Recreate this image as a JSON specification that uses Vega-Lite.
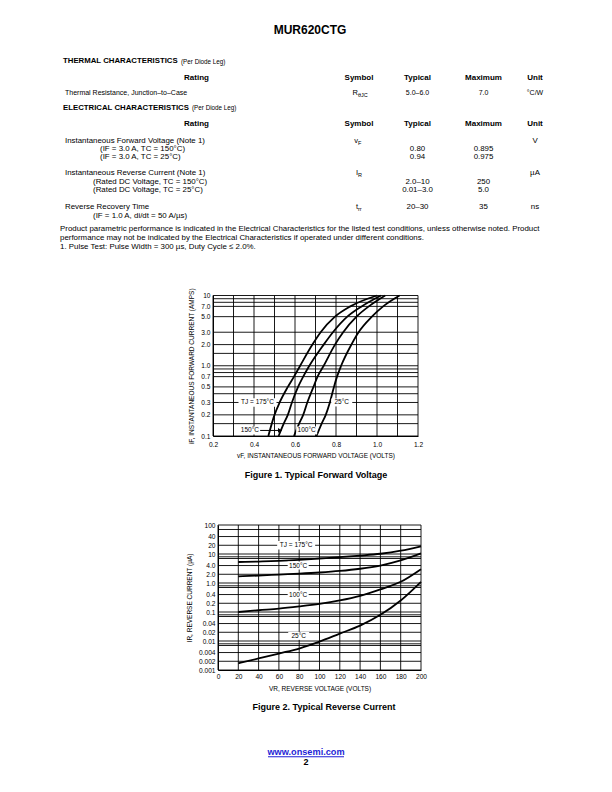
{
  "$schema": "https://vega.github.io/schema/vega-lite/v6.json",
  "width": 612,
  "height": 792,
  "padding": 0,
  "autosize": {"type": "none"},
  "background": "white",
  "config": {"view": {"stroke": null}, "font": "Liberation Sans"},
  "datasets": {
    "page": [
      {"kind": "title", "line": 1, "col": 6, "text": "MUR620CTG"},
      {"kind": "heading", "line": 2, "col": 0, "text": "THERMAL CHARACTERISTICS"},
      {"kind": "headnote", "line": 2, "col": 0, "text": "(Per Diode Leg)"},
      {"kind": "th", "line": 4, "col": 0.5, "text": "Rating"},
      {"kind": "th", "line": 4, "col": 1.5, "text": "Symbol"},
      {"kind": "th", "line": 4, "col": 2.5, "text": "Typical"},
      {"kind": "th", "line": 4, "col": 3.5, "text": "Maximum"},
      {"kind": "th", "line": 4, "col": 4.5, "text": "Unit"},
      {"kind": "td", "line": 6, "col": 0, "text": "Thermal Resistance, Junction–to–Case"},
      {"kind": "sym", "line": 6, "col": 1.5, "text": "R", "sub": "θJC"},
      {"kind": "val", "line": 6, "col": 2.5, "text": "5.0–6.0"},
      {"kind": "val", "line": 6, "col": 3.5, "text": "7.0"},
      {"kind": "val", "line": 6, "col": 4.5, "text": "°C/W"},
      {"kind": "heading", "line": 8, "col": 0, "text": "ELECTRICAL CHARACTERISTICS"},
      {"kind": "headnote", "line": 8, "col": 0, "text": "(Per Diode Leg)"},
      {"kind": "th", "line": 10, "col": 0.5, "text": "Rating"},
      {"kind": "th", "line": 10, "col": 1.5, "text": "Symbol"},
      {"kind": "th", "line": 10, "col": 2.5, "text": "Typical"},
      {"kind": "th", "line": 10, "col": 3.5, "text": "Maximum"},
      {"kind": "th", "line": 10, "col": 4.5, "text": "Unit"},
      {"kind": "td", "line": 12, "col": 0, "text": "Instantaneous Forward Voltage (Note 1)"},
      {"kind": "sym", "line": 12, "col": 1.5, "text": "v", "sub": "F"},
      {"kind": "val", "line": 12, "col": 4.5, "text": "V"},
      {"kind": "cond", "line": 13, "col": 0, "text": "(IF = 3.0 A, TC = 150°C)"},
      {"kind": "val", "line": 13, "col": 2.5, "text": "0.80"},
      {"kind": "val", "line": 13, "col": 3.5, "text": "0.895"},
      {"kind": "cond", "line": 14, "col": 0, "text": "(IF = 3.0 A, TC = 25°C)"},
      {"kind": "val", "line": 14, "col": 2.5, "text": "0.94"},
      {"kind": "val", "line": 14, "col": 3.5, "text": "0.975"},
      {"kind": "td", "line": 16, "col": 0, "text": "Instantaneous Reverse Current (Note 1)"},
      {"kind": "sym", "line": 16, "col": 1.5, "text": "I", "sub": "R"},
      {"kind": "val", "line": 16, "col": 4.5, "text": "µA"},
      {"kind": "cond", "line": 17, "col": 0, "text": "(Rated DC Voltage, TC = 150°C)"},
      {"kind": "val", "line": 17, "col": 2.5, "text": "2.0–10"},
      {"kind": "val", "line": 17, "col": 3.5, "text": "250"},
      {"kind": "cond", "line": 18, "col": 0, "text": "(Rated DC Voltage, TC = 25°C)"},
      {"kind": "val", "line": 18, "col": 2.5, "text": "0.01–3.0"},
      {"kind": "val", "line": 18, "col": 3.5, "text": "5.0"},
      {"kind": "td", "line": 20, "col": 0, "text": "Reverse Recovery Time"},
      {"kind": "sym", "line": 20, "col": 1.5, "text": "t", "sub": "rr"},
      {"kind": "val", "line": 20, "col": 2.5, "text": "20–30"},
      {"kind": "val", "line": 20, "col": 3.5, "text": "35"},
      {"kind": "val", "line": 20, "col": 4.5, "text": "ns"},
      {"kind": "cond", "line": 21, "col": 0, "text": "(IF = 1.0 A, di/dt = 50 A/µs)"},
      {"kind": "note", "line": 23, "col": 0, "text": "Product parametric performance is indicated in the Electrical Characteristics for the listed test conditions, unless otherwise noted. Product"},
      {"kind": "note", "line": 24, "col": 0, "text": "performance may not be indicated by the Electrical Characteristics if operated under different conditions."},
      {"kind": "note", "line": 25, "col": 0, "text": "1.  Pulse Test: Pulse Width = 300 µs, Duty Cycle ≤ 2.0%."},
      {"kind": "caption", "line": 26, "col": 7, "text": "Figure 1. Typical Forward Voltage"},
      {"kind": "caption", "line": 27, "col": 8, "text": "Figure 2. Typical Reverse Current"},
      {"kind": "url", "line": 29, "col": 6, "text": "www.onsemi.com"},
      {"kind": "pagenum", "line": 30, "col": 6, "text": "2"}
    ],
    "hrules": [
      {"line": 3}, {"line": 5}, {"line": 7}, {"line": 9}, {"line": 11}, {"line": 15}, {"line": 19}, {"line": 22}, {"line": 28}
    ],
    "vrules": [
      {"table": "thermal", "col": 0}, {"table": "thermal", "col": 1}, {"table": "thermal", "col": 2},
      {"table": "thermal", "col": 3}, {"table": "thermal", "col": 4}, {"table": "thermal", "col": 5},
      {"table": "electrical", "col": 0}, {"table": "electrical", "col": 1}, {"table": "electrical", "col": 2},
      {"table": "electrical", "col": 3}, {"table": "electrical", "col": 4}, {"table": "electrical", "col": 5}
    ],
    "fig1": [
      {"tj": "175°C", "vf": 0.47, "amps": 0.1}, {"tj": "175°C", "vf": 0.5, "amps": 0.2}, {"tj": "175°C", "vf": 0.525, "amps": 0.3},
      {"tj": "175°C", "vf": 0.565, "amps": 0.5}, {"tj": "175°C", "vf": 0.595, "amps": 0.7}, {"tj": "175°C", "vf": 0.625, "amps": 1},
      {"tj": "175°C", "vf": 0.685, "amps": 2}, {"tj": "175°C", "vf": 0.725, "amps": 3}, {"tj": "175°C", "vf": 0.795, "amps": 5},
      {"tj": "175°C", "vf": 0.87, "amps": 7}, {"tj": "175°C", "vf": 1.0, "amps": 10},
      {"tj": "150°C", "vf": 0.52, "amps": 0.1}, {"tj": "150°C", "vf": 0.545, "amps": 0.15}, {"tj": "150°C", "vf": 0.565, "amps": 0.2},
      {"tj": "150°C", "vf": 0.585, "amps": 0.3}, {"tj": "150°C", "vf": 0.615, "amps": 0.5}, {"tj": "150°C", "vf": 0.64, "amps": 0.7},
      {"tj": "150°C", "vf": 0.67, "amps": 1}, {"tj": "150°C", "vf": 0.74, "amps": 2}, {"tj": "150°C", "vf": 0.785, "amps": 3},
      {"tj": "150°C", "vf": 0.855, "amps": 5}, {"tj": "150°C", "vf": 0.925, "amps": 7}, {"tj": "150°C", "vf": 1.02, "amps": 10},
      {"tj": "100°C", "vf": 0.595, "amps": 0.1}, {"tj": "100°C", "vf": 0.62, "amps": 0.15}, {"tj": "100°C", "vf": 0.64, "amps": 0.2},
      {"tj": "100°C", "vf": 0.66, "amps": 0.3}, {"tj": "100°C", "vf": 0.69, "amps": 0.5}, {"tj": "100°C", "vf": 0.71, "amps": 0.7},
      {"tj": "100°C", "vf": 0.74, "amps": 1}, {"tj": "100°C", "vf": 0.795, "amps": 2}, {"tj": "100°C", "vf": 0.835, "amps": 3},
      {"tj": "100°C", "vf": 0.9, "amps": 5}, {"tj": "100°C", "vf": 0.96, "amps": 7}, {"tj": "100°C", "vf": 1.04, "amps": 10},
      {"tj": "25°C", "vf": 0.705, "amps": 0.1}, {"tj": "25°C", "vf": 0.73, "amps": 0.15}, {"tj": "25°C", "vf": 0.75, "amps": 0.2},
      {"tj": "25°C", "vf": 0.77, "amps": 0.3}, {"tj": "25°C", "vf": 0.79, "amps": 0.5}, {"tj": "25°C", "vf": 0.805, "amps": 0.7},
      {"tj": "25°C", "vf": 0.825, "amps": 1}, {"tj": "25°C", "vf": 0.875, "amps": 2}, {"tj": "25°C", "vf": 0.91, "amps": 3},
      {"tj": "25°C", "vf": 0.975, "amps": 5}, {"tj": "25°C", "vf": 1.03, "amps": 7}, {"tj": "25°C", "vf": 1.11, "amps": 10}
    ],
    "fig1_hgrid": [
      {"amps": 0.1}, {"amps": 0.15}, {"amps": 0.2}, {"amps": 0.3}, {"amps": 0.4}, {"amps": 0.5}, {"amps": 0.7}, {"amps": 0.8}, {"amps": 0.9},
      {"amps": 1}, {"amps": 1.5}, {"amps": 2}, {"amps": 3}, {"amps": 5}, {"amps": 7}, {"amps": 8}, {"amps": 9}, {"amps": 10}
    ],
    "fig1_vgrid": [
      {"vf": 0.2}, {"vf": 0.3}, {"vf": 0.4}, {"vf": 0.5}, {"vf": 0.6}, {"vf": 0.7}, {"vf": 0.8}, {"vf": 0.9}, {"vf": 1.0}, {"vf": 1.1}, {"vf": 1.2}
    ],
    "fig1_labels": [
      {"text": "TJ = 175°C", "vf": 0.417, "amps": 0.3},
      {"text": "150°C", "vf": 0.38, "amps": 0.12},
      {"text": "100°C", "vf": 0.657, "amps": 0.12},
      {"text": "25°C", "vf": 0.828, "amps": 0.3}
    ],
    "fig1_arrow": [{"vf": 0.43, "vf_end": 0.527, "amps": 0.12}],
    "fig2": [
      {"tj": "175°C", "vr": 20, "ir": 5.3}, {"tj": "175°C", "vr": 40, "ir": 5.5}, {"tj": "175°C", "vr": 60, "ir": 5.8},
      {"tj": "175°C", "vr": 80, "ir": 6.3}, {"tj": "175°C", "vr": 100, "ir": 7.0}, {"tj": "175°C", "vr": 120, "ir": 7.8},
      {"tj": "175°C", "vr": 140, "ir": 8.8}, {"tj": "175°C", "vr": 160, "ir": 10.2}, {"tj": "175°C", "vr": 180, "ir": 13},
      {"tj": "175°C", "vr": 200, "ir": 18.5},
      {"tj": "150°C", "vr": 20, "ir": 1.7}, {"tj": "150°C", "vr": 40, "ir": 1.8}, {"tj": "150°C", "vr": 60, "ir": 1.95},
      {"tj": "150°C", "vr": 80, "ir": 2.1}, {"tj": "150°C", "vr": 100, "ir": 2.3}, {"tj": "150°C", "vr": 120, "ir": 2.6},
      {"tj": "150°C", "vr": 140, "ir": 3.1}, {"tj": "150°C", "vr": 160, "ir": 4.0}, {"tj": "150°C", "vr": 180, "ir": 6.0},
      {"tj": "150°C", "vr": 200, "ir": 10.5},
      {"tj": "100°C", "vr": 20, "ir": 0.1}, {"tj": "100°C", "vr": 40, "ir": 0.115}, {"tj": "100°C", "vr": 60, "ir": 0.13},
      {"tj": "100°C", "vr": 80, "ir": 0.155}, {"tj": "100°C", "vr": 100, "ir": 0.19}, {"tj": "100°C", "vr": 120, "ir": 0.25},
      {"tj": "100°C", "vr": 140, "ir": 0.36}, {"tj": "100°C", "vr": 160, "ir": 0.6}, {"tj": "100°C", "vr": 180, "ir": 1.1},
      {"tj": "100°C", "vr": 200, "ir": 3.0},
      {"tj": "25°C", "vr": 20, "ir": 0.0017}, {"tj": "25°C", "vr": 40, "ir": 0.0025}, {"tj": "25°C", "vr": 60, "ir": 0.0037},
      {"tj": "25°C", "vr": 80, "ir": 0.0055}, {"tj": "25°C", "vr": 100, "ir": 0.0095}, {"tj": "25°C", "vr": 120, "ir": 0.018},
      {"tj": "25°C", "vr": 140, "ir": 0.034}, {"tj": "25°C", "vr": 160, "ir": 0.08}, {"tj": "25°C", "vr": 180, "ir": 0.25},
      {"tj": "25°C", "vr": 200, "ir": 1.1}
    ],
    "fig2_hgrid": [
      {"ir": 100}, {"ir": 70}, {"ir": 40}, {"ir": 20}, {"ir": 10}, {"ir": 8}, {"ir": 7}, {"ir": 4}, {"ir": 2},
      {"ir": 1}, {"ir": 0.8}, {"ir": 0.7}, {"ir": 0.4}, {"ir": 0.2}, {"ir": 0.1}, {"ir": 0.08}, {"ir": 0.07},
      {"ir": 0.04}, {"ir": 0.02}, {"ir": 0.01}, {"ir": 0.008}, {"ir": 0.007}, {"ir": 0.004}, {"ir": 0.002}, {"ir": 0.001}
    ],
    "fig2_vgrid": [
      {"vr": 0}, {"vr": 20}, {"vr": 40}, {"vr": 60}, {"vr": 80}, {"vr": 100}, {"vr": 120}, {"vr": 140}, {"vr": 160}, {"vr": 180}, {"vr": 200}
    ],
    "fig2_labels": [
      {"text": "TJ = 175°C", "vr": 77, "ir": 20},
      {"text": "150°C", "vr": 79, "ir": 4},
      {"text": "100°C", "vr": 79, "ir": 0.4},
      {"text": "25°C", "vr": 79.5, "ir": 0.015}
    ]
  },
  "layer": [
    {
      "data": {"name": "page"},
      "encoding": {
        "x": {"field": "col", "type": "quantitative", "axis": null,
              "scale": {"type": "linear", "domain": [0, 1, 2, 3, 4, 5, 6, 7, 8], "range": [60, 333, 385, 450, 517, 553, 306, 316, 324], "nice": false, "zero": false}},
        "y": {"field": "line", "type": "quantitative", "axis": null,
              "scale": {"type": "linear", "domain": [1, 2, 3, 4, 5, 6, 7, 8, 9, 10, 11, 12, 13, 14, 15, 16, 17, 18, 19, 20, 21, 22, 23, 24, 25, 26, 27, 28, 29, 30],
                        "range": [30, 61, 70.5, 77.5, 85.5, 92.5, 100.5, 107.5, 115.5, 124, 131.5, 140.5, 148.5, 157, 165.5, 173, 181.5, 190, 199, 207, 215.5, 223.5, 229, 238, 247, 475, 707, 744, 752, 762], "nice": false, "zero": false}}
      },
      "layer": [
        {"transform": [{"filter": "datum.kind == 'title'"}],
         "mark": {"type": "text", "font": "Liberation Sans", "fontWeight": "bold", "fontSize": 12, "dx": 4, "color": "black"},
         "encoding": {"text": {"field": "text"}}},
        {"transform": [{"filter": "datum.kind == 'heading'"}],
         "mark": {"type": "text", "font": "Liberation Sans", "fontWeight": "bold", "fontSize": 7.8, "align": "left", "dx": 3, "color": "black"},
         "encoding": {"text": {"field": "text"}}},
        {"transform": [{"filter": "datum.kind == 'headnote' && datum.line == 2"}],
         "mark": {"type": "text", "font": "Liberation Sans", "fontSize": 6.3, "align": "left", "dx": 121, "dy": 0.5, "color": "black"},
         "encoding": {"text": {"field": "text"}}},
        {"transform": [{"filter": "datum.kind == 'headnote' && datum.line == 8"}],
         "mark": {"type": "text", "font": "Liberation Sans", "fontSize": 6.3, "align": "left", "dx": 132, "dy": 0.5, "color": "black"},
         "encoding": {"text": {"field": "text"}}},
        {"transform": [{"filter": "datum.kind == 'th'"}],
         "mark": {"type": "text", "font": "Liberation Sans", "fontWeight": "bold", "fontSize": 8, "color": "black"},
         "encoding": {"text": {"field": "text"}}},
        {"transform": [{"filter": "datum.kind == 'td' && datum.line == 6"}],
         "mark": {"type": "text", "font": "Liberation Sans", "fontSize": 7, "align": "left", "dx": 5, "color": "black"},
         "encoding": {"text": {"field": "text"}}},
        {"transform": [{"filter": "datum.kind == 'td' && datum.line > 8"}],
         "mark": {"type": "text", "font": "Liberation Sans", "fontSize": 7.9, "align": "left", "dx": 5, "color": "black"},
         "encoding": {"text": {"field": "text"}}},
        {"transform": [{"filter": "datum.kind == 'cond' && datum.line < 15"}],
         "mark": {"type": "text", "font": "Liberation Sans", "fontSize": 7.9, "align": "left", "dx": 40, "color": "black"},
         "encoding": {"text": {"field": "text"}}},
        {"transform": [{"filter": "datum.kind == 'cond' && datum.line > 15"}],
         "mark": {"type": "text", "font": "Liberation Sans", "fontSize": 7.9, "align": "left", "dx": 33, "color": "black"},
         "encoding": {"text": {"field": "text"}}},
        {"transform": [{"filter": "datum.kind == 'val' && datum.line == 6"}],
         "mark": {"type": "text", "font": "Liberation Sans", "fontSize": 7, "color": "black"},
         "encoding": {"text": {"field": "text"}}},
        {"transform": [{"filter": "datum.kind == 'val' && datum.line > 8"}],
         "mark": {"type": "text", "font": "Liberation Sans", "fontSize": 7.9, "color": "black"},
         "encoding": {"text": {"field": "text"}}},
        {"transform": [{"filter": "datum.kind == 'sym'"}],
         "mark": {"type": "text", "font": "Liberation Sans", "fontSize": 7.5, "align": "right", "dx": -1, "color": "black"},
         "encoding": {"text": {"field": "text"}}},
        {"transform": [{"filter": "datum.kind == 'sym'"}],
         "mark": {"type": "text", "font": "Liberation Sans", "fontSize": 5.5, "align": "left", "dx": -1, "dy": 2, "color": "black"},
         "encoding": {"text": {"field": "sub"}}},
        {"transform": [{"filter": "datum.kind == 'note'"}],
         "mark": {"type": "text", "font": "Liberation Sans", "fontSize": 7.9, "align": "left", "color": "black"},
         "encoding": {"text": {"field": "text"}}},
        {"transform": [{"filter": "datum.kind == 'caption'"}],
         "mark": {"type": "text", "font": "Liberation Sans", "fontWeight": "bold", "fontSize": 9, "color": "black"},
         "encoding": {"text": {"field": "text"}}},
        {"transform": [{"filter": "datum.kind == 'url'"}],
         "mark": {"type": "text", "font": "Liberation Sans", "fontWeight": "bold", "fontSize": 9.2, "color": "#1f1fd6"},
         "encoding": {"text": {"field": "text"}}},
        {"transform": [{"filter": "datum.kind == 'url'"}],
         "mark": {"type": "tick", "orient": "horizontal", "size": 76, "thickness": 0.9, "color": "#1f1fd6", "yOffset": 4.8, "opacity": 1}},
        {"transform": [{"filter": "datum.kind == 'pagenum'"}],
         "mark": {"type": "text", "font": "Liberation Sans", "fontWeight": "bold", "fontSize": 9, "color": "black"},
         "encoding": {"text": {"field": "text"}}},
        {"data": {"name": "hrules"},
         "transform": [{"filter": "datum.line < 28"}],
         "mark": {"type": "rule", "color": "black", "strokeWidth": 0.9},
         "encoding": {"x": {"datum": 0, "type": "quantitative"}, "x2": {"datum": 5}}},
        {"data": {"name": "hrules"},
         "transform": [{"filter": "datum.line == 28"}],
         "mark": {"type": "rule", "color": "#b4b4b4", "strokeWidth": 1.6},
         "encoding": {"x": {"datum": 0, "type": "quantitative"}, "x2": {"datum": 5}}},
        {"data": {"name": "vrules"},
         "transform": [{"filter": "datum.table == 'thermal'"}],
         "mark": {"type": "rule", "color": "black", "strokeWidth": 0.9},
         "encoding": {"y": {"datum": 3, "type": "quantitative"}, "y2": {"datum": 7}}},
        {"data": {"name": "vrules"},
         "transform": [{"filter": "datum.table == 'electrical'"}],
         "mark": {"type": "rule", "color": "black", "strokeWidth": 0.9},
         "encoding": {"y": {"datum": 9, "type": "quantitative"}, "y2": {"datum": 22}}}
      ]
    },
    {"data": {"name": "fig1_hgrid"},
     "mark": {"type": "rule", "color": "black", "strokeWidth": 0.9},
     "encoding": {
       "y": {"field": "amps", "type": "quantitative", "axis": null, "scale": {"type": "log", "domain": [0.1, 10], "range": [436, 295.5], "nice": false}},
       "x": {"datum": 0.2, "type": "quantitative", "axis": null, "scale": {"type": "linear", "domain": [0.2, 1.2], "range": [213, 418], "nice": false, "zero": false}},
       "x2": {"datum": 1.2}}},
    {"data": {"name": "fig1_vgrid"},
     "mark": {"type": "rule", "color": "black", "strokeWidth": 0.9},
     "encoding": {
       "x": {"field": "vf", "type": "quantitative", "axis": null, "scale": {"type": "linear", "domain": [0.2, 1.2], "range": [213, 418], "nice": false, "zero": false}},
       "y": {"datum": 0.1, "type": "quantitative", "axis": null, "scale": {"type": "log", "domain": [0.1, 10], "range": [436, 295.5], "nice": false}},
       "y2": {"datum": 10}}},
    {"data": {"name": "fig1"},
     "mark": {"type": "line", "color": "black", "strokeWidth": 1.8, "interpolate": "monotone"},
     "encoding": {
       "x": {"field": "vf", "type": "quantitative",
             "scale": {"type": "linear", "domain": [0.2, 1.2], "range": [213, 418], "nice": false, "zero": false},
             "axis": {"orient": "bottom", "offset": -356, "zindex": 2, "values": [0.2, 0.4, 0.6, 0.8, 1.0, 1.2], "format": ".1f",
                      "title": "vF, INSTANTANEOUS FORWARD VOLTAGE (VOLTS)", "grid": false, "ticks": false,
                      "domainColor": "black", "domainWidth": 1, "labelFont": "Liberation Sans", "labelFontSize": 6.6,
                      "labelColor": "black", "labelPadding": 5, "labelFlush": false, "labelOverlap": false,
                      "titleFont": "Liberation Sans", "titleFontSize": 6.5, "titleFontWeight": "normal",
                      "titleColor": "black", "titlePadding": 4.5}},
       "y": {"field": "amps", "type": "quantitative",
             "scale": {"type": "log", "domain": [0.1, 10], "range": [436, 295.5], "nice": false},
             "axis": {"orient": "left", "offset": -213, "zindex": 2, "values": [0.1, 0.2, 0.3, 0.5, 0.7, 1, 2, 3, 5, 7, 10],
                      "labelExpr": "datum.value >= 10 ? format(datum.value, 'd') : datum.value >= 1 ? format(datum.value, '.1f') : format(datum.value, '~g')",
                      "title": "iF, INSTANTANEOUS FORWARD CURRENT (AMPS)", "grid": false, "ticks": false,
                      "domainColor": "black", "domainWidth": 1, "labelFont": "Liberation Sans", "labelFontSize": 6.6,
                      "labelColor": "black", "labelPadding": 3, "labelFlush": false, "labelOverlap": false,
                      "titleFont": "Liberation Sans", "titleFontSize": 6.5, "titleFontWeight": "normal",
                      "titleColor": "black", "titlePadding": 6}},
       "detail": {"field": "tj", "type": "nominal"}}},
    {"data": {"name": "fig1_labels"},
     "transform": [{"filter": "indexof(datum.text, 'TJ') == 0"}],
     "mark": {"type": "point", "shape": "M-1,-0.22L1,-0.22L1,0.22L-1,0.22Z", "size": 1444, "filled": true, "color": "white", "opacity": 1, "strokeWidth": 0},
     "encoding": {
       "x": {"field": "vf", "type": "quantitative", "axis": null, "scale": {"type": "linear", "domain": [0.2, 1.2], "range": [213, 418], "nice": false, "zero": false}},
       "y": {"field": "amps", "type": "quantitative", "axis": null, "scale": {"type": "log", "domain": [0.1, 10], "range": [436, 295.5], "nice": false}}}},
    {"data": {"name": "fig1_labels"},
     "transform": [{"filter": "indexof(datum.text, 'TJ') != 0"}],
     "mark": {"type": "point", "shape": "M-1,-0.38L1,-0.38L1,0.38L-1,0.38Z", "size": 441, "filled": true, "color": "white", "opacity": 1, "strokeWidth": 0},
     "encoding": {
       "x": {"field": "vf", "type": "quantitative", "axis": null, "scale": {"type": "linear", "domain": [0.2, 1.2], "range": [213, 418], "nice": false, "zero": false}},
       "y": {"field": "amps", "type": "quantitative", "axis": null, "scale": {"type": "log", "domain": [0.1, 10], "range": [436, 295.5], "nice": false}}}},
    {"data": {"name": "fig1_labels"},
     "mark": {"type": "text", "font": "Liberation Sans", "fontSize": 6.5, "color": "black"},
     "encoding": {
       "x": {"field": "vf", "type": "quantitative", "axis": null, "scale": {"type": "linear", "domain": [0.2, 1.2], "range": [213, 418], "nice": false, "zero": false}},
       "y": {"field": "amps", "type": "quantitative", "axis": null, "scale": {"type": "log", "domain": [0.1, 10], "range": [436, 295.5], "nice": false}},
       "text": {"field": "text"}}},
    {"data": {"name": "fig1_arrow"},
     "mark": {"type": "rule", "color": "black", "strokeWidth": 1},
     "encoding": {
       "x": {"field": "vf", "type": "quantitative", "axis": null, "scale": {"type": "linear", "domain": [0.2, 1.2], "range": [213, 418], "nice": false, "zero": false}},
       "x2": {"field": "vf_end"},
       "y": {"field": "amps", "type": "quantitative", "axis": null, "scale": {"type": "log", "domain": [0.1, 10], "range": [436, 295.5], "nice": false}}}},
    {"data": {"name": "fig1_arrow"},
     "mark": {"type": "point", "shape": "triangle-right", "size": 22, "filled": true, "color": "black", "opacity": 1},
     "encoding": {
       "x": {"field": "vf_end", "type": "quantitative", "axis": null, "scale": {"type": "linear", "domain": [0.2, 1.2], "range": [213, 418], "nice": false, "zero": false}},
       "y": {"field": "amps", "type": "quantitative", "axis": null, "scale": {"type": "log", "domain": [0.1, 10], "range": [436, 295.5], "nice": false}}}},
    {"data": {"name": "fig2_hgrid"},
     "mark": {"type": "rule", "color": "black", "strokeWidth": 0.9},
     "encoding": {
       "y": {"field": "ir", "type": "quantitative", "axis": null, "scale": {"type": "log", "domain": [0.001, 100], "range": [670, 525], "nice": false}},
       "x": {"datum": 0, "type": "quantitative", "axis": null, "scale": {"type": "linear", "domain": [0, 200], "range": [218, 421], "nice": false, "zero": false}},
       "x2": {"datum": 200}}},
    {"data": {"name": "fig2_vgrid"},
     "mark": {"type": "rule", "color": "black", "strokeWidth": 0.9},
     "encoding": {
       "x": {"field": "vr", "type": "quantitative", "axis": null, "scale": {"type": "linear", "domain": [0, 200], "range": [218, 421], "nice": false, "zero": false}},
       "y": {"datum": 0.001, "type": "quantitative", "axis": null, "scale": {"type": "log", "domain": [0.001, 100], "range": [670, 525], "nice": false}},
       "y2": {"datum": 100}}},
    {"data": {"name": "fig2"},
     "mark": {"type": "line", "color": "black", "strokeWidth": 1.8, "interpolate": "monotone"},
     "encoding": {
       "x": {"field": "vr", "type": "quantitative",
             "scale": {"type": "linear", "domain": [0, 200], "range": [218, 421], "nice": false, "zero": false},
             "axis": {"orient": "bottom", "offset": -122, "zindex": 2, "values": [0, 20, 40, 60, 80, 100, 120, 140, 160, 180, 200], "format": "d",
                      "title": "VR, REVERSE VOLTAGE (VOLTS)", "grid": false, "ticks": false,
                      "domainColor": "black", "domainWidth": 1, "labelFont": "Liberation Sans", "labelFontSize": 6.6,
                      "labelColor": "black", "labelPadding": 3.5, "labelFlush": false, "labelOverlap": false,
                      "titleFont": "Liberation Sans", "titleFontSize": 6.5, "titleFontWeight": "normal",
                      "titleColor": "black", "titlePadding": 5.5}},
       "y": {"field": "ir", "type": "quantitative",
             "scale": {"type": "log", "domain": [0.001, 100], "range": [670, 525], "nice": false},
             "axis": {"orient": "left", "offset": -218, "zindex": 2, "values": [0.001, 0.002, 0.004, 0.01, 0.02, 0.04, 0.1, 0.2, 0.4, 1, 2, 4, 10, 20, 40, 100],
                      "labelExpr": "datum.value >= 10 ? format(datum.value, 'd') : datum.value >= 1 ? format(datum.value, '.1f') : format(datum.value, '~g')",
                      "title": "IR, REVERSE CURRENT (µA)", "grid": false, "ticks": false,
                      "domainColor": "black", "domainWidth": 1, "labelFont": "Liberation Sans", "labelFontSize": 6.6,
                      "labelColor": "black", "labelPadding": 3, "labelFlush": false, "labelOverlap": false,
                      "titleFont": "Liberation Sans", "titleFontSize": 6.5, "titleFontWeight": "normal",
                      "titleColor": "black", "titlePadding": 6}},
       "detail": {"field": "tj", "type": "nominal"}}},
    {"data": {"name": "fig2_labels"},
     "transform": [{"filter": "indexof(datum.text, 'TJ') == 0"}],
     "mark": {"type": "point", "shape": "M-1,-0.22L1,-0.22L1,0.22L-1,0.22Z", "size": 1444, "filled": true, "color": "white", "opacity": 1, "strokeWidth": 0},
     "encoding": {
       "x": {"field": "vr", "type": "quantitative", "axis": null, "scale": {"type": "linear", "domain": [0, 200], "range": [218, 421], "nice": false, "zero": false}},
       "y": {"field": "ir", "type": "quantitative", "axis": null, "scale": {"type": "log", "domain": [0.001, 100], "range": [670, 525], "nice": false}}}},
    {"data": {"name": "fig2_labels"},
     "transform": [{"filter": "indexof(datum.text, 'TJ') != 0"}],
     "mark": {"type": "point", "shape": "M-1,-0.38L1,-0.38L1,0.38L-1,0.38Z", "size": 441, "filled": true, "color": "white", "opacity": 1, "strokeWidth": 0},
     "encoding": {
       "x": {"field": "vr", "type": "quantitative", "axis": null, "scale": {"type": "linear", "domain": [0, 200], "range": [218, 421], "nice": false, "zero": false}},
       "y": {"field": "ir", "type": "quantitative", "axis": null, "scale": {"type": "log", "domain": [0.001, 100], "range": [670, 525], "nice": false}}}},
    {"data": {"name": "fig2_labels"},
     "mark": {"type": "text", "font": "Liberation Sans", "fontSize": 6.5, "color": "black"},
     "encoding": {
       "x": {"field": "vr", "type": "quantitative", "axis": null, "scale": {"type": "linear", "domain": [0, 200], "range": [218, 421], "nice": false, "zero": false}},
       "y": {"field": "ir", "type": "quantitative", "axis": null, "scale": {"type": "log", "domain": [0.001, 100], "range": [670, 525], "nice": false}},
       "text": {"field": "text"}}}
  ],
  "resolve": {"scale": {"x": "independent", "y": "independent"}, "axis": {"x": "independent", "y": "independent"}}
}
